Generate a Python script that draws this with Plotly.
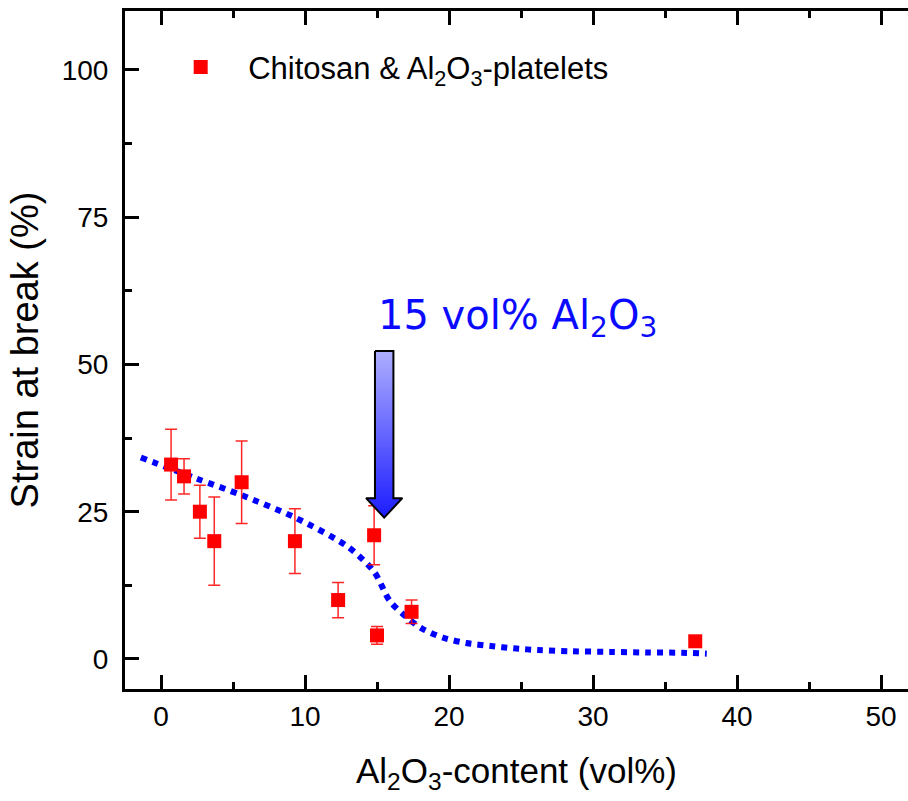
import plotly.graph_objects as go

# Measured data (Al2O3 content vol%, strain at break %)
al_content = [0.7, 1.6, 2.7, 3.7, 5.6, 9.3, 12.3, 14.8, 15.0, 17.4, 37.1]
strain = [33, 31, 25, 20, 30, 20, 10, 21, 4, 8, 3]
strain_err = [6, 3, 4.5, 7.5, 7, 5.5, 3, 5, 1.5, 2, 0]

# Dotted guide curve
curve_x = [-1.4, 2.5, 5.6, 9.4, 13.0, 14.8, 15.9, 17.1, 18.1, 19.6, 21.2, 22.9,
           24.5, 26.2, 28.6, 31.2, 33.7, 36.2, 37.9]
curve_y = [34.2, 30.6, 27.8, 23.9, 19.0, 14.8, 9.8, 7.0, 5.2, 3.6, 2.7, 2.2,
           1.8, 1.5, 1.3, 1.2, 1.1, 1.05, 0.9]

# Arrow annotation (data units)
arrow_x = 15.5
arrow_top = 52.3
arrow_head_top = 27.3
arrow_tip = 24.0
shaft_half = 0.64
head_half = 1.26

x_ticks = [0, 10, 20, 30, 40, 50]
y_ticks = [0, 25, 50, 75, 100]

FONT = "Liberation Sans, Arial, sans-serif"

fig = go.Figure()

fig.add_trace(go.Scatter(
    x=curve_x, y=curve_y, mode="lines",
    line=dict(color="#0000ff", width=6, dash="6px,6px", shape="spline", smoothing=0.8),
    showlegend=False, hoverinfo="skip",
))

fig.add_trace(go.Scatter(
    x=al_content, y=strain, mode="markers",
    name="Chitosan &amp; Al<sub>2</sub>O<sub>3</sub>-platelets",
    marker=dict(symbol="square", size=14, color="#ff0000"),
    error_y=dict(type="data", array=strain_err, color="rgba(255,0,0,0.85)",
                 thickness=1.5, width=6),
))

ax = [arrow_x - shaft_half, arrow_x + shaft_half, arrow_x + shaft_half,
      arrow_x + head_half, arrow_x, arrow_x - head_half, arrow_x - shaft_half,
      arrow_x - shaft_half]
ay = [arrow_top, arrow_top, arrow_head_top, arrow_head_top, arrow_tip,
      arrow_head_top, arrow_head_top, arrow_top]
fig.add_trace(go.Scatter(
    x=ax, y=ay, mode="lines", fill="toself",
    fillgradient=dict(type="vertical",
                      colorscale=[[0, "#1c1cff"], [1, "#aeaeff"]]),
    line=dict(color="black", width=2),
    showlegend=False, hoverinfo="skip",
))

fig.add_annotation(
    x=14.93, y=57.8, xref="x", yref="y", xanchor="left", yanchor="middle",
    text="15 vol% Al<sub>2</sub>O<sub>3</sub>", showarrow=False,
    font=dict(family="DejaVu Sans, sans-serif", size=40, color="#0a0aff"),
)

axis_common = dict(
    showline=True, linecolor="black", linewidth=3,
    ticks="inside", ticklen=14, tickwidth=2.5, tickcolor="black",
    showgrid=False, zeroline=False,
    tickfont=dict(family=FONT, size=28, color="black"),
)

fig.update_xaxes(
    range=[-2.5, 51.875], tickvals=x_ticks, ticktext=[str(v) for v in x_ticks],
    mirror="allticks",
    minor=dict(ticks="inside", ticklen=7, tickwidth=2.5, tickcolor="black", dtick=5,
               tick0=0, showgrid=False),
    title=dict(text="Al<sub>2</sub>O<sub>3</sub>-content (vol%)",
               font=dict(family=FONT, size=35, color="black"), standoff=28),
    **axis_common,
)
fig.update_yaxes(
    range=[-5.1, 110], tickvals=y_ticks, ticktext=[str(v) for v in y_ticks],
    mirror=False,
    minor=dict(ticks="inside", ticklen=7, tickwidth=2.5, tickcolor="black", dtick=12.5,
               tick0=0, showgrid=False),
    ticklabelstandoff=8,
    title=dict(text="Strain at break (%)",
               font=dict(family=FONT, size=38, color="black"), standoff=12),
    **axis_common,
)

fig.update_layout(
    width=908, height=801,
    margin=dict(l=125, r=0, t=11, b=112),
    paper_bgcolor="white", plot_bgcolor="white",
    showlegend=True,
    legend=dict(x=0.036, y=0.917, xanchor="left", yanchor="middle",
                bgcolor="rgba(0,0,0,0)", borderwidth=0, itemwidth=85,
                font=dict(family=FONT, size=31, color="black")),
)

fig.write_html("out.html")
